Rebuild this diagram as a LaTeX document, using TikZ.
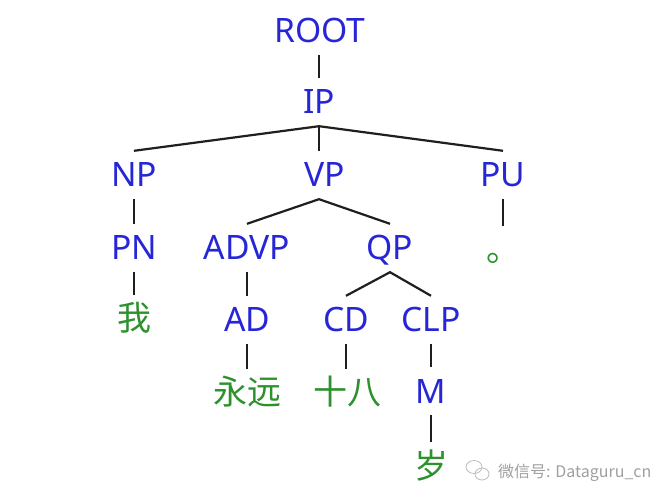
\documentclass[tikz,border=0pt]{standalone}
\usepackage{fontspec}
\setmainfont{Noto Sans}
\newfontfamily\cjk{Noto Sans CJK SC}
\definecolor{tblue}{RGB}{38,38,215}
\definecolor{tgreen}{RGB}{45,145,45}
\definecolor{wmgray}{RGB}{160,160,160}
\begin{document}
\begin{tikzpicture}[x=1pt,y=-1pt,
  lab/.style={anchor=base, inner xsep=0pt, inner ysep=12pt, text height=24pt, text depth=0pt,
              font=\fontsize{33.6}{40}\selectfont, text=tblue},
  word/.style={lab, font=\cjk\fontsize{34}{40}\selectfont, text=tgreen},
  edge/.style={line width=2.2pt, black!88}]
\fill[white] (0,0) rectangle (672,502);
\useasboundingbox (0,0) rectangle (672,502);

% labels
\node[lab] (root) at (320,43) {ROOT};
\node[lab] (ip)   at (319,114) {IP};
\node[lab] (np)   at (134,187) {NP};
\node[lab] (vp)   at (325,187) {VP};
\node[lab] (pu)   at (503,187) {PU};
\node[lab] (pn)   at (134,260) {PN};
\node[lab] (advp) at (247,260) {ADVP};
\node[lab] (qp)   at (390,260) {QP};
\node[word] (dot) at (503,262) {。};
\node[word] (wo)  at (134,331) {我};
\node[lab] (ad)   at (247,332) {AD};
\node[lab] (cd)   at (346,332) {CD};
\node[lab] (clp)  at (431,332) {CLP};
\node[word] (yy)  at (247,405) {永远};
\node[word] (sb)  at (347,405) {十八};
\node[lab] (m)    at (431,403) {M};
\node[word] (sui) at (431,478) {岁};

% connectors
\draw[edge] (ip.north |- root.south) -- (ip.north);
\draw[edge] (np.north) -- (ip.south) -- (pu.north);
\draw[edge] (ip.south) -- (ip.south |- vp.north);
\coordinate (vpa) at ([xshift=-6pt]vp.south);
\draw[edge] (advp.north) -- (vpa) -- (qp.north);
\draw[edge] (np.south) -- (pn.north);
\draw[edge] (pu.south) -- (pu.south |- dot.north);
\draw[edge] (pn.south) -- (wo.north);
\draw[edge] (advp.south) -- (ad.north);
\draw[edge] (cd.north) -- (qp.south) -- (clp.north);
\draw[edge] (ad.south) -- (yy.north);
\draw[edge] (cd.south) -- (cd.south |- sb.north);
\draw[edge] (clp.south) -- (m.north);
\draw[edge] (m.south) -- (sui.north);

% watermark
\draw[wmgray!70, line width=0.8pt] (474,467) ellipse (8 and 6.5);
\draw[wmgray!70, line width=0.8pt] (482,474) ellipse (7 and 6);
\node[anchor=base west, inner sep=0pt, text=wmgray, font=\cjk\fontsize{16}{20}\selectfont] (wm) at (498,477) {微信号: Dataguru\_cn};
\end{tikzpicture}
\end{document}
